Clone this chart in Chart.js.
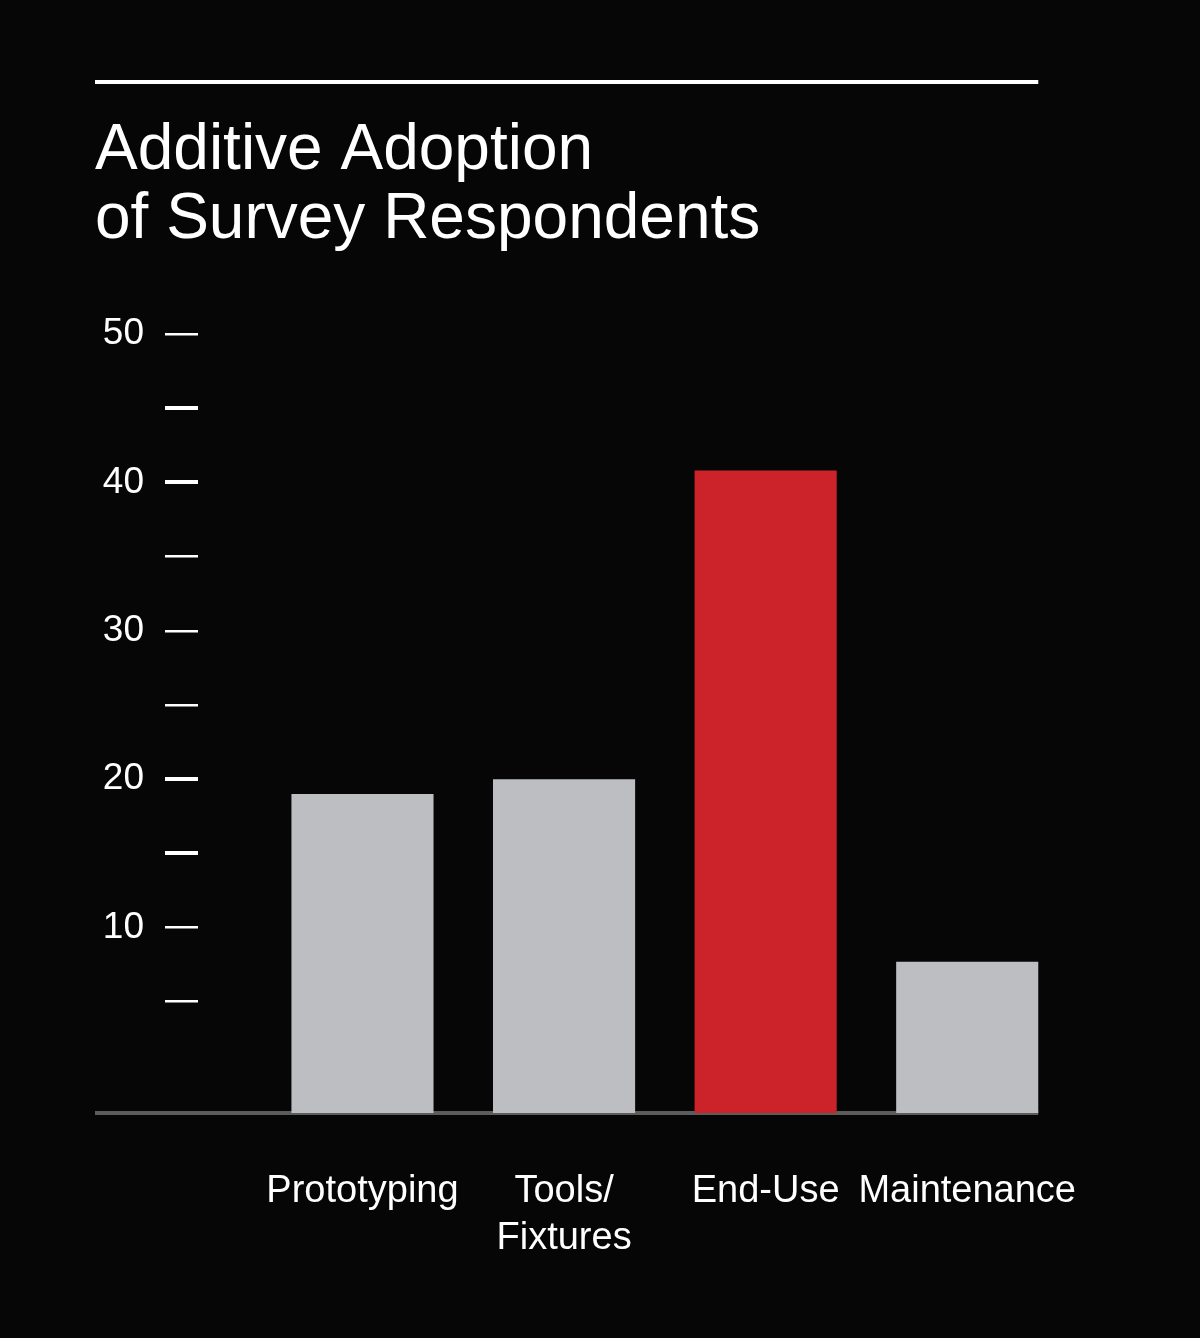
<!DOCTYPE html>
<html>
<head>
<meta charset="utf-8">
<title>Additive Adoption of Survey Respondents</title>
<script src="https://cdn.jsdelivr.net/npm/chart.js@4.4.1/dist/chart.umd.min.js"></script>
<style>
    html, body { margin: 0; padding: 0; background: #060606; }
    #wrap { width: 1200px; height: 1338px; position: relative; }
</style>
</head>
<body>
<div id="wrap"><canvas id="adoptionChart"></canvas></div>
<script>
// data
const categories = ['Prototyping', 'Tools/Fixtures', 'End-Use', 'Maintenance'];
const categoryLabels = [['Prototyping'], ['Tools/', 'Fixtures'], ['End-Use'], ['Maintenance']];
const adoptionValues = [19, 20, 40.8, 7.7];
const yTickValues = [5, 10, 15, 20, 25, 30, 35, 40, 45, 50];
const highlighted = 'End-Use';

const yMin = -2.5;
const yMax = 50;
const FONT = '"Liberation Sans", Arial, Helvetica, sans-serif';
const GREY = '#bdbec2';
const RED = '#cc2229';

document.addEventListener("DOMContentLoaded", function () {
    const canvas = document.getElementById('adoptionChart');
    const ctx = canvas.getContext('2d');

    // black page plus the white rule above the title
    const backdrop = {
        id: 'backdrop',
        beforeDraw(chart) {
            const c = chart.ctx;
            c.save();
            c.fillStyle = '#060606';
            c.fillRect(0, 0, chart.width, chart.height);
            const meta = chart.getDatasetMeta(0);
            const last = meta.data[meta.data.length - 1];
            const right = last ? last.x + last.width / 2 : chart.chartArea.right;
            c.fillStyle = '#ffffff';
            c.fillRect(chart.options.layout.padding.left, 80, right - chart.options.layout.padding.left, 4);
            c.restore();
        }
    };

    // grey baseline under the bars
    const baseline = {
        id: 'baseline',
        beforeDatasetsDraw(chart) {
            const c = chart.ctx;
            const y = chart.scales.y.getPixelForValue(yMin);
            const meta = chart.getDatasetMeta(0);
            const last = meta.data[meta.data.length - 1];
            const right = last.x + last.width / 2;
            c.save();
            c.strokeStyle = '#5c5c5c';
            c.lineWidth = 4;
            c.beginPath();
            c.moveTo(chart.options.layout.padding.left, y);
            c.lineTo(right, y);
            c.stroke();
            c.restore();
        }
    };

    new Chart(ctx, {
        type: 'bar',
        data: {
            datasets: [{
                label: 'Respondents',
                data: adoptionValues.map((v, i) => ({ x: i, y: v })),
                backgroundColor: categories.map(c => c === highlighted ? RED : GREY),
                borderWidth: 0,
                base: yMin,
                barPercentage: 0.705,
                categoryPercentage: 1
            }]
        },
        options: {
            responsive: true,
            maintainAspectRatio: false,
            animation: false,
            layout: { padding: { left: 95, right: 132, top: 0, bottom: 0 } },
            plugins: {
                legend: { display: false },
                tooltip: { enabled: false },
                title: {
                    display: true,
                    text: ['Additive Adoption', 'of Survey Respondents'],
                    align: 'start',
                    color: '#ffffff',
                    font: { family: FONT, size: 64, weight: 'normal', lineHeight: 69 / 64 },
                    padding: { top: 117, bottom: 79 }
                }
            },
            scales: {
                x: {
                    type: 'linear',
                    position: 'bottom',
                    min: -0.816,
                    max: 3.5,
                    bounds: 'data',
                    offset: false,
                    afterBuildTicks: function (scale) {
                        scale.ticks = categories.map((c, i) => ({ value: i }));
                    },
                    afterFit: function (scale) {
                        // labels sit well inside the plot, no edge padding needed
                        scale.height = 225;
                        scale.paddingLeft = 0;
                        scale.paddingRight = 0;
                    },
                    grid: { display: false, drawTicks: false, offset: false },
                    border: { display: false },
                    ticks: {
                        color: '#ffffff',
                        font: { family: FONT, size: 38, lineHeight: 47 / 38 },
                        padding: 55,
                        maxRotation: 0,
                        autoSkip: false,
                        callback: function (value) {
                            return categoryLabels[value] || '';
                        }
                    }
                },
                y: {
                    min: yMin,
                    max: yMax,
                    bounds: 'data',
                    afterBuildTicks: function (scale) {
                        scale.ticks = yTickValues.map(v => ({ value: v }));
                    },
                    afterFit: function (scale) {
                        scale.width = 103;
                    },
                    grid: {
                        drawOnChartArea: false,
                        drawTicks: true,
                        tickLength: 33,
                        color: '#ffffff',
                        lineWidth: function (c) {
                            const v = c.tick ? c.tick.value : 0;
                            return [15, 20, 40, 45].includes(v) ? 4 : 2.5;
                        }
                    },
                    border: { display: false },
                    ticks: {
                        color: '#ffffff',
                        font: { family: FONT, size: 37 },
                        padding: 21,
                        callback: function (value) {
                            return value % 10 === 0 ? String(value) : '';
                        }
                    }
                }
            }
        },
        plugins: [backdrop, baseline]
    });
});
</script>
</body>
</html>
